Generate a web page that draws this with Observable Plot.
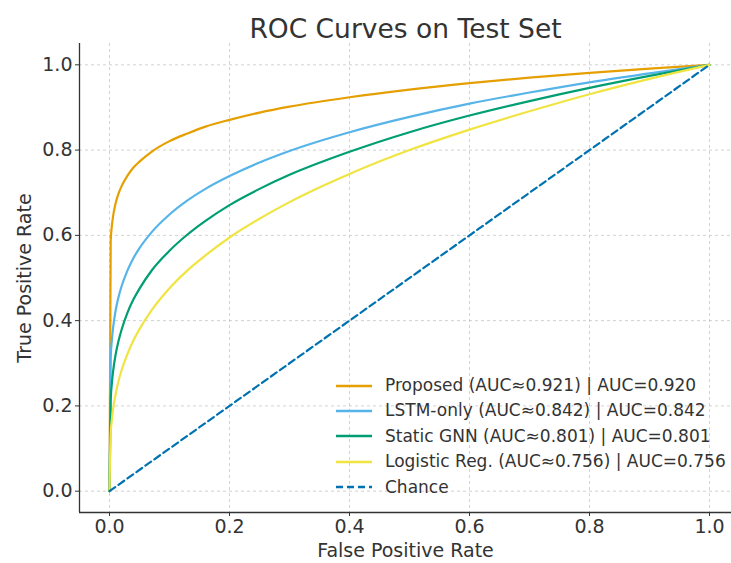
<!DOCTYPE html>
<html>
<head>
<meta charset="utf-8">
<script src="https://cdn.jsdelivr.net/npm/d3@7"></script>
<script src="https://cdn.jsdelivr.net/npm/@observablehq/plot@0.6"></script>
<style>
  html, body { margin: 0; padding: 0; background: #fff; }
  #wrap { position: relative; width: 731px; height: 563px; font-family: "DejaVu Sans", sans-serif; }
  #legend { position: absolute; left: 336px; top: 373px; font-size: 17px; color: #333; line-height: 25.4px; }
  #legend .row { display: flex; align-items: center; height: 25.4px; white-space: nowrap; }
  #legend svg { margin-right: 13px; }
</style>
</head>
<body>
<div id="wrap"></div>
<script>
// ---- data ----
const title = "ROC Curves on Test Set";
const xLabel = "False Positive Rate";
const yLabel = "True Positive Rate";
const ticks = [0, 0.2, 0.4, 0.6, 0.8, 1.0];

const fpr = [0, 0.002, 0.004, 0.006, 0.01, 0.015, 0.02, 0.03, 0.04, 0.05, 0.07, 0.1, 0.13, 0.16, 0.2, 0.25, 0.3, 0.4, 0.5, 0.6, 0.7, 0.8, 0.9, 1.0];
const tprProposed = [0, 0.587, 0.623, 0.645, 0.674, 0.698, 0.715, 0.740, 0.759, 0.773, 0.796, 0.821, 0.839, 0.855, 0.871, 0.888, 0.902, 0.924, 0.942, 0.957, 0.970, 0.981, 0.991, 1.0];
const tprLSTM     = [0, 0.312, 0.355, 0.383, 0.422, 0.455, 0.480, 0.518, 0.547, 0.570, 0.607, 0.649, 0.682, 0.709, 0.739, 0.771, 0.798, 0.842, 0.878, 0.909, 0.935, 0.959, 0.980, 1.0];
const tprGNN      = [0, 0.214, 0.254, 0.281, 0.319, 0.352, 0.378, 0.419, 0.450, 0.475, 0.517, 0.564, 0.602, 0.634, 0.671, 0.709, 0.742, 0.796, 0.842, 0.881, 0.915, 0.946, 0.974, 1.0];
const tprLogReg   = [0, 0.135, 0.168, 0.192, 0.226, 0.258, 0.283, 0.322, 0.354, 0.380, 0.424, 0.476, 0.518, 0.553, 0.595, 0.639, 0.678, 0.744, 0.800, 0.848, 0.891, 0.931, 0.967, 1.0];
const chanceX = [0, 1];
const chanceY = [0, 1];

const seriesNames = [
  "Proposed (AUC\u22480.921) | AUC=0.920",
  "LSTM-only (AUC\u22480.842) | AUC=0.842",
  "Static GNN (AUC\u22480.801) | AUC=0.801",
  "Logistic Reg. (AUC\u22480.756) | AUC=0.756"
];
const seriesColors = ["#E69F00", "#56B4E9", "#009E73", "#F0E442"];
const chanceName = "Chance";
const chanceColor = "#0072B2";

// ---- build table ----
const tprs = [tprProposed, tprLSTM, tprGNN, tprLogReg];
const rows = [];
tprs.forEach((arr, k) => fpr.forEach((x, i) => rows.push({series: seriesNames[k], x, y: arr[i]})));
const chance = chanceX.map((x, i) => ({x, y: chanceY[i]}));

const plot = Plot.plot({
  width: 731,
  height: 563,
  marginLeft: 79,
  marginRight: 0,
  marginTop: 43,
  marginBottom: 51,
  style: {fontFamily: "DejaVu Sans, sans-serif", fontSize: "19px", color: "#333", background: "#fff", overflow: "hidden"},
  x: {domain: [-0.05, 1.05], range: [79, 739]},
  y: {domain: [-0.05, 1.05], range: [512, 43]},
  color: {domain: seriesNames, range: seriesColors},
  marks: [
    Plot.gridX(ticks, {stroke: "#b8b8b8", strokeOpacity: 0.7, strokeDasharray: "3,3", strokeWidth: 0.9}),
    Plot.gridY(ticks, {stroke: "#b8b8b8", strokeOpacity: 0.7, strokeDasharray: "3,3", strokeWidth: 0.9}),
    Plot.line(rows, {x: "x", y: "y", z: "series", stroke: "series", strokeWidth: 2.2, curve: "monotone-x"}),
    Plot.line(chance, {x: "x", y: "y", stroke: chanceColor, strokeWidth: 2.2, strokeDasharray: "7,4"}),
    Plot.ruleX([-0.05], {stroke: "#333", strokeWidth: 1.3}),
    Plot.ruleY([-0.05], {stroke: "#333", strokeWidth: 1.3}),
    Plot.axisX(ticks, {tickSize: 4, tickPadding: 3, tickFormat: d3.format(".1f"), label: xLabel, labelAnchor: "center", labelArrow: "none", labelOffset: 44}),
    Plot.axisY(ticks, {tickSize: 4, tickPadding: 3, tickFormat: d3.format(".1f"), label: yLabel, labelAnchor: "center", labelArrow: "none", labelOffset: 62}),
    Plot.text([title], {frameAnchor: "top", dy: -24, fontSize: 26.5, fill: "#333", text: d => d})
  ]
});

const wrap = document.getElementById("wrap");
wrap.appendChild(plot);

// legend overlay
const legend = document.createElement("div");
legend.id = "legend";
const items = seriesNames.map((n, i) => ({name: n, color: seriesColors[i], dash: null}))
  .concat([{name: chanceName, color: chanceColor, dash: "7,4"}]);
for (const it of items) {
  const row = document.createElement("div");
  row.className = "row";
  row.innerHTML = `<svg width="36" height="6"><line x1="0" y1="3" x2="36" y2="3" stroke="${it.color}" stroke-width="2.4" ${it.dash ? `stroke-dasharray="${it.dash}"` : ""}/></svg><span>${it.name}</span>`;
  legend.appendChild(row);
}
wrap.appendChild(legend);
</script>
</body>
</html>
